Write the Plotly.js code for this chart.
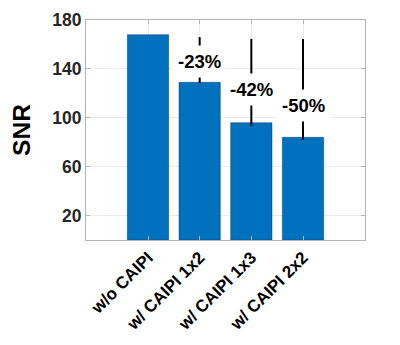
<!DOCTYPE html>
<html>
<head>
<meta charset="utf-8">
<script src="https://cdn.plot.ly/plotly-3.0.1.min.js"></script>
<style>html,body{margin:0;padding:0;background:#fff;}#chart{width:400px;height:345px;}</style>
</head>
<body>
<div id="chart"></div>
<script>
const categories = ["w/o CAIPI", "w/ CAIPI 1x2", "w/ CAIPI 1x3", "w/ CAIPI 2x2"];
const snrValues = [168, 129, 96, 84];
const lineUp = [0, 37, 68.5, 80.5];
const lineDown = [0, 0.5, 2.5, 2];
const changeLabels = ["", "-23%", "-42%", "-50%"];
const labelY = [0, 146, 123, 110];
const yTicks = [20, 60, 100, 140, 180];

const fam = "Liberation Sans, Arial, sans-serif";

const trace = {
  type: "bar",
  x: categories,
  y: snrValues,
  width: 0.8,
  marker: {color: "#0072BD", line: {color: "rgba(0,40,80,0.5)", width: 0.8}},
  error_y: {
    type: "data", symmetric: false,
    array: lineUp, arrayminus: lineDown,
    color: "#000", thickness: 2, width: 0, visible: true
  },
  hoverinfo: "none"
};

const annotations = [];
categories.forEach((c, i) => {
  if (changeLabels[i]) {
    annotations.push({
      x: c, y: labelY[i], xref: "x", yref: "y",
      text: "<b>" + changeLabels[i] + "</b>", showarrow: false,
      bgcolor: "#ffffff", borderpad: 5,
      font: {family: fam, size: 18.5, color: "#000"}
    });
  }
});

const layout = {
  width: 400, height: 345,
  margin: {l: 86, r: 35, t: 20, b: 105},
  paper_bgcolor: "#fff", plot_bgcolor: "#fff",
  showlegend: false,
  xaxis: {
    type: "category",
    range: [-1.2, 4.2],
    tickangle: -45,
    tickvals: categories,
    ticktext: categories.map(s => "<b>" + s + "</b>"),
    tickfont: {family: fam, size: 17, color: "#000"},
    showgrid: true, gridcolor: "#ebebeb", gridwidth: 1,
    showline: true, linecolor: "#b3b3b3", linewidth: 1, mirror: "ticks",
    ticks: "inside", ticklen: 4, tickcolor: "#b3b3b3",
    zeroline: false, fixedrange: true
  },
  yaxis: {
    range: [0, 180],
    tickvals: yTicks,
    ticktext: yTicks.map(v => "<b>" + v + "</b>"),
    tickfont: {family: fam, size: 17.5, color: "#262626"},
    showgrid: true, gridcolor: "#ebebeb", gridwidth: 1,
    showline: true, linecolor: "#b3b3b3", linewidth: 1, mirror: "ticks",
    ticks: "inside", ticklen: 4, tickcolor: "#b3b3b3",
    zeroline: false, fixedrange: true,
    title: {text: "<b>SNR</b>", font: {family: fam, size: 24.5, color: "#000"}, standoff: 14}
  },
  annotations: annotations
};

Plotly.newPlot("chart", [trace], layout, {displayModeBar: false, staticPlot: true});
</script>
</body>
</html>
